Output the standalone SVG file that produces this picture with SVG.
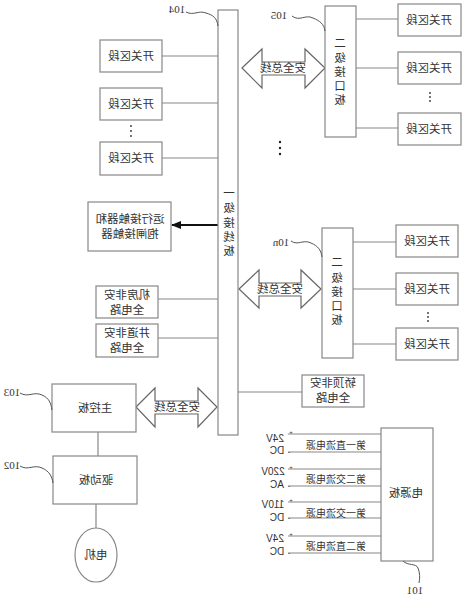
<svg xmlns="http://www.w3.org/2000/svg" width="465" height="600" viewBox="0 0 465 600">
<style>
.b{fill:#fff;stroke:#888;stroke-width:1.2}
.l{stroke:#888;stroke-width:1.2;fill:none}
.s{stroke:#555;stroke-width:1;fill:none}
.t{font-family:"Liberation Serif","Noto Sans CJK SC",serif;font-size:11.5px;fill:#333;text-anchor:middle;dominant-baseline:central}
.sm{font-size:10px}
.n{font-family:"Liberation Serif",serif;font-size:11px;fill:#333;text-anchor:middle;dominant-baseline:central}
.v{font-family:"Liberation Sans",sans-serif;font-size:10px;fill:#333;text-anchor:middle;dominant-baseline:central}
.ar{fill:#fff;stroke:#666;stroke-width:1.2}
</style>
<defs>
<marker id="ah" markerWidth="10" markerHeight="8" refX="9" refY="4" orient="auto" markerUnits="userSpaceOnUse">
<path d="M0,0 L10,4 L0,8 Z" fill="#111"/>
</marker>
</defs>
<rect width="465" height="600" fill="#fff"/>

<g id="connectors">
<line class="l" x1="162" y1="56" x2="218" y2="56"/>
<line class="l" x1="162" y1="103" x2="218" y2="103"/>
<line class="l" x1="162" y1="158" x2="218" y2="158"/>
<line x1="218" y1="225" x2="172" y2="225" stroke="#111" stroke-width="2.2" marker-end="url(#ah)"/>
<line class="l" x1="158" y1="299" x2="218" y2="299"/>
<line class="l" x1="158" y1="338" x2="218" y2="338"/>
<line class="l" x1="238" y1="392" x2="302" y2="392"/>
<line class="l" x1="356" y1="19" x2="398" y2="19"/>
<line class="l" x1="356" y1="68" x2="398" y2="68"/>
<line class="l" x1="356" y1="128" x2="398" y2="128"/>
<line class="l" x1="353" y1="242" x2="396" y2="242"/>
<line class="l" x1="353" y1="289" x2="396" y2="289"/>
<line class="l" x1="353" y1="344" x2="396" y2="344"/>
<line class="l" x1="98" y1="432" x2="98" y2="456"/>
<line class="l" x1="96" y1="504" x2="96" y2="528"/>
<line class="l" x1="288" y1="434" x2="381" y2="434"/>
<line class="l" x1="288" y1="452" x2="381" y2="452"/>
<line class="l" x1="288" y1="469" x2="381" y2="469"/>
<line class="l" x1="288" y1="486" x2="381" y2="486"/>
<line class="l" x1="288" y1="502" x2="381" y2="502"/>
<line class="l" x1="288" y1="518" x2="381" y2="518"/>
<line class="l" x1="288" y1="536" x2="381" y2="536"/>
<line class="l" x1="288" y1="553" x2="381" y2="553"/>
<polygon class="ar" points="242,68 262,49 262,62 305,62 305,49 325,68 305,88 305,75 262,75 262,88"/>
<text class="t" transform="scale(-1,1)" x="-283" y="68">安全总线</text>
<polygon class="ar" points="239,289 259,270 259,283 301,283 301,270 321,289 301,308 301,296 259,296 259,308"/>
<text class="t" transform="scale(-1,1)" x="-280" y="289">安全总线</text>
<polygon class="ar" points="136,407 155,388 155,401 198,401 198,388 217,407 198,427 198,414 155,414 155,427"/>
<text class="t" transform="scale(-1,1)" x="-177" y="407">安全总线</text>
</g>

<g id="n104">
<rect class="b" x="218" y="10" width="20" height="425"/>
<text class="t" transform="scale(-1,1)" x="-229" y="193">一</text>
<text class="t" transform="scale(-1,1)" x="-229" y="208">级</text>
<text class="t" transform="scale(-1,1)" x="-229" y="223">接</text>
<text class="t" transform="scale(-1,1)" x="-229" y="237">线</text>
<text class="t" transform="scale(-1,1)" x="-229" y="251">板</text>
<path class="s" d="M186,12 C194,16 198,10 206,13 C213,15 217,18 218,26"/>
<text class="n" transform="scale(-1,1)" x="-177" y="9">104</text>
</g>

<g id="sw-l1"><rect class="b" x="100" y="40" width="62" height="32"/><text class="t" transform="scale(-1,1)" x="-131" y="56">开关区段</text></g>
<g id="sw-l2"><rect class="b" x="100" y="88" width="62" height="32"/><text class="t" transform="scale(-1,1)" x="-131" y="104">开关区段</text></g>
<g id="dots-l"><circle cx="131" cy="126" r="0.9" fill="#333"/><circle cx="131" cy="131" r="0.9" fill="#333"/><circle cx="131" cy="136" r="0.9" fill="#333"/></g>
<g id="sw-l3"><rect class="b" x="100" y="142" width="62" height="33"/><text class="t" transform="scale(-1,1)" x="-131" y="158">开关区段</text></g>

<g id="contactor"><rect class="b" x="88" y="202" width="83" height="49"/>
<text class="t" transform="scale(-1,1)" x="-130" y="219">运行接触器和</text>
<text class="t" transform="scale(-1,1)" x="-130" y="234">抱闸接触器</text></g>

<g id="machine-room"><rect class="b" x="96" y="286" width="62" height="32"/>
<text class="t" transform="scale(-1,1)" x="-127" y="295">机房非安</text>
<text class="t" transform="scale(-1,1)" x="-127" y="310">全电路</text></g>

<g id="shaft"><rect class="b" x="96" y="324" width="62" height="33"/>
<text class="t" transform="scale(-1,1)" x="-127" y="333">井道非安</text>
<text class="t" transform="scale(-1,1)" x="-127" y="348">全电路</text></g>

<g id="car-top"><rect class="b" x="302" y="375" width="62" height="32"/>
<text class="t" transform="scale(-1,1)" x="-333" y="383">轿顶非安</text>
<text class="t" transform="scale(-1,1)" x="-333" y="398">全电路</text></g>

<g id="n105"><rect class="b" x="325" y="6" width="31" height="131"/>
<text class="t" transform="scale(-1,1)" x="-340" y="43">二</text>
<text class="t" transform="scale(-1,1)" x="-340" y="58">级</text>
<text class="t" transform="scale(-1,1)" x="-340" y="72">接</text>
<text class="t" transform="scale(-1,1)" x="-340" y="86">口</text>
<text class="t" transform="scale(-1,1)" x="-340" y="100">板</text>
<path class="s" d="M292,16 C300,22 305,14 313,18 C320,21 324,24 325,31"/>
<text class="n" transform="scale(-1,1)" x="-279" y="15">105</text></g>

<g id="sw-r1"><rect class="b" x="398" y="4" width="63" height="32"/><text class="t" transform="scale(-1,1)" x="-429" y="20">开关区段</text></g>
<g id="sw-r2"><rect class="b" x="398" y="52" width="63" height="32"/><text class="t" transform="scale(-1,1)" x="-429" y="68">开关区段</text></g>
<g id="dots-r1"><circle cx="430" cy="93" r="0.9" fill="#333"/><circle cx="430" cy="97" r="0.9" fill="#333"/><circle cx="430" cy="101" r="0.9" fill="#333"/></g>
<g id="sw-r3"><rect class="b" x="398" y="113" width="63" height="32"/><text class="t" transform="scale(-1,1)" x="-429" y="129">开关区段</text></g>

<g id="dots-mid"><circle cx="280" cy="142" r="1.2" fill="#222"/><circle cx="280" cy="148" r="1.2" fill="#222"/><circle cx="280" cy="154" r="1.2" fill="#222"/></g>

<g id="n10n"><rect class="b" x="322" y="228" width="31" height="130"/>
<text class="t" transform="scale(-1,1)" x="-337" y="262">二</text>
<text class="t" transform="scale(-1,1)" x="-337" y="278">级</text>
<text class="t" transform="scale(-1,1)" x="-337" y="292">接</text>
<text class="t" transform="scale(-1,1)" x="-337" y="306">口</text>
<text class="t" transform="scale(-1,1)" x="-337" y="320">板</text>
<path class="s" d="M291,241 C298,246 303,239 311,243 C318,246 321,250 322,257"/>
<text class="n" transform="scale(-1,1)" x="-281" y="242">10n</text></g>

<g id="sw-n1"><rect class="b" x="396" y="225" width="62" height="32"/><text class="t" transform="scale(-1,1)" x="-427" y="241">开关区段</text></g>
<g id="sw-n2"><rect class="b" x="396" y="273" width="62" height="32"/><text class="t" transform="scale(-1,1)" x="-427" y="289">开关区段</text></g>
<g id="dots-r2"><circle cx="428" cy="313" r="0.9" fill="#333"/><circle cx="428" cy="317" r="0.9" fill="#333"/><circle cx="428" cy="321" r="0.9" fill="#333"/></g>
<g id="sw-n3"><rect class="b" x="396" y="328" width="62" height="32"/><text class="t" transform="scale(-1,1)" x="-427" y="344">开关区段</text></g>

<g id="n103"><rect class="b" x="52" y="384" width="84" height="48"/>
<text class="t" transform="scale(-1,1)" x="-95" y="408">主控板</text>
<path class="s" d="M20,393 C28,398 34,391 42,395 C49,398 51,403 52,410"/>
<text class="n" transform="scale(-1,1)" x="-12" y="392">103</text></g>

<g id="n102"><rect class="b" x="53" y="456" width="84" height="48"/>
<text class="t" transform="scale(-1,1)" x="-96" y="480">驱动板</text>
<path class="s" d="M20,466 C28,471 34,464 42,468 C49,471 52,476 53,483"/>
<text class="n" transform="scale(-1,1)" x="-12" y="465">102</text></g>

<g id="motor"><ellipse class="b" cx="96" cy="555" rx="21" ry="27"/>
<text class="t" transform="scale(-1,1)" x="-96" y="555">电机</text></g>

<g id="n101"><rect class="b" x="381" y="428" width="52" height="133"/>
<text class="t" transform="scale(-1,1)" x="-406" y="493">电源板</text>
<path class="s" d="M403,561 C408,566 416,563 418,568 C420,573 420,578 419,583"/>
<text class="n" transform="scale(-1,1)" x="-415" y="590">101</text></g>

<g id="power-labels">
<text class="t sm" transform="scale(-1,1)" x="-336" y="445">第一直流电源</text>
<text class="t sm" transform="scale(-1,1)" x="-336" y="479">第二交流电源</text>
<text class="t sm" transform="scale(-1,1)" x="-336" y="513">第一交流电源</text>
<text class="t sm" transform="scale(-1,1)" x="-336" y="546">第二直流电源</text>
<text class="v" transform="scale(-1,1)" x="-275" y="438">24V</text>
<text class="v" transform="scale(-1,1)" x="-277" y="450">DC</text>
<text class="v" transform="scale(-1,1)" x="-273" y="471">220V</text>
<text class="v" transform="scale(-1,1)" x="-277" y="484">AC</text>
<text class="v" transform="scale(-1,1)" x="-273" y="504">110V</text>
<text class="v" transform="scale(-1,1)" x="-277" y="517">DC</text>
<text class="v" transform="scale(-1,1)" x="-275" y="538">24V</text>
<text class="v" transform="scale(-1,1)" x="-277" y="551">DC</text>
<text class="v" style="font-size:6px" transform="scale(-1,1)" x="-291" y="432">+</text>
<text class="v" style="font-size:6px" transform="scale(-1,1)" x="-291" y="467">+</text>
<text class="v" style="font-size:6px" transform="scale(-1,1)" x="-291" y="500">+</text>
<text class="v" style="font-size:6px" transform="scale(-1,1)" x="-291" y="534">+</text>
<text class="v" style="font-size:7px" transform="scale(-1,1)" x="-289" y="451">-</text>
<text class="v" style="font-size:7px" transform="scale(-1,1)" x="-289" y="485">-</text>
<text class="v" style="font-size:7px" transform="scale(-1,1)" x="-289" y="517">-</text>
<text class="v" style="font-size:7px" transform="scale(-1,1)" x="-289" y="552">-</text>
</g>
</svg>
